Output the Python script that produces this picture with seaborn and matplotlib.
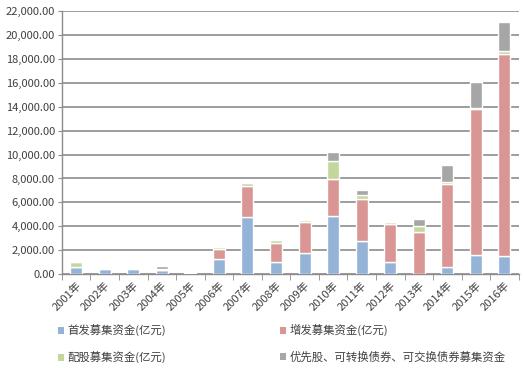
import matplotlib
matplotlib.use("Agg")
import matplotlib.pyplot as plt
import seaborn as sns
import numpy as np
from matplotlib.patches import Patch
from matplotlib.ticker import FuncFormatter, FixedLocator

# Data (亿元)
years = ["2001年", "2002年", "2003年", "2004年", "2005年", "2006年", "2007年", "2008年",
         "2009年", "2010年", "2011年", "2012年", "2013年", "2014年", "2015年", "2016年"]
ipo = [620, 470, 460, 320, 0, 1300, 4770, 1050, 1760, 4900, 2780, 1040, 0, 640, 1580, 1500]
additional = [0, 20, 40, 0, 0, 840, 2560, 1570, 2640, 3090, 3520, 3190, 3560, 6930, 12240, 16920]
rights = [370, 50, 90, 150, 40, 90, 300, 220, 160, 1460, 330, 90, 500, 150, 80, 250]
others = [20, 30, 110, 190, 20, 70, 90, 90, 60, 750, 420, 140, 540, 1420, 2200, 2450]

series_names = ["首发募集资金(亿元)", "增发募集资金(亿元)", "配股募集资金(亿元)",
                "优先股、可转换债券、可交换债券募集资金"]
colors = ["#95B3D7", "#D99694", "#C3D69B", "#A6A6A6"]

sns.set_style("white")
plt.rcParams['font.family'] = ['Noto Sans CJK SC', 'DejaVu Sans']

fig, ax = plt.subplots(figsize=(5.24, 3.68), dpi=100)
fig.subplots_adjust(left=0.118, right=0.99, top=0.970, bottom=0.255)

bottom = np.zeros(len(years))
for vals, col in zip([ipo, additional, rights, others], colors):
    sns.barplot(x=years, y=vals, bottom=bottom, color=col, width=0.42,
                saturation=1, ax=ax, zorder=3)
    bottom = bottom + np.array(vals)

# axes styling
ax.set_ylim(0, 22000)
ax.set_xlim(-0.5, len(years) - 0.5)
ax.set_yticks(np.arange(0, 22001, 2000))
ax.yaxis.set_major_formatter(FuncFormatter(lambda v, p: f"{v:,.2f}"))
ax.grid(axis="y", color="#8C8C8C", linewidth=1.2, zorder=0)
ax.grid(axis="x", visible=False)
for s in ["top", "right"]:
    ax.spines[s].set_visible(False)
for s in ["left", "bottom"]:
    ax.spines[s].set_color("#8C8C8C")
    ax.spines[s].set_linewidth(1.0)

ax.tick_params(axis="y", labelsize=8, labelcolor="#404040", length=3,
               color="#8C8C8C", left=True, pad=2)
ax.tick_params(axis="x", which="major", length=0, labelsize=8,
               labelcolor="#404040", pad=4)
ax.xaxis.set_minor_locator(FixedLocator(np.arange(-0.5, len(years), 1)))
ax.tick_params(axis="x", which="minor", length=4, color="#8C8C8C", bottom=True,
               direction="out")
for lbl in ax.get_xticklabels():
    lbl.set_rotation(45)
    lbl.set_ha("right")
    lbl.set_rotation_mode("anchor")
ax.set_xlabel("")
ax.set_ylabel("")

# legend: row 1 = 首发, 增发; row 2 = 配股, 优先股
order = [0, 2, 1, 3]
handles = [Patch(facecolor=colors[i], edgecolor="none") for i in order]
labels = [series_names[i] for i in order]
fig.legend(handles, labels, loc="upper left", ncol=2,
           bbox_to_anchor=(0.091, 0.147), frameon=False,
           fontsize=8.2, handlelength=0.55, handleheight=0.55,
           handletextpad=0.3, columnspacing=10.0, labelspacing=1.3,
           labelcolor="#404040")

fig.savefig("out.png", dpi=100)
